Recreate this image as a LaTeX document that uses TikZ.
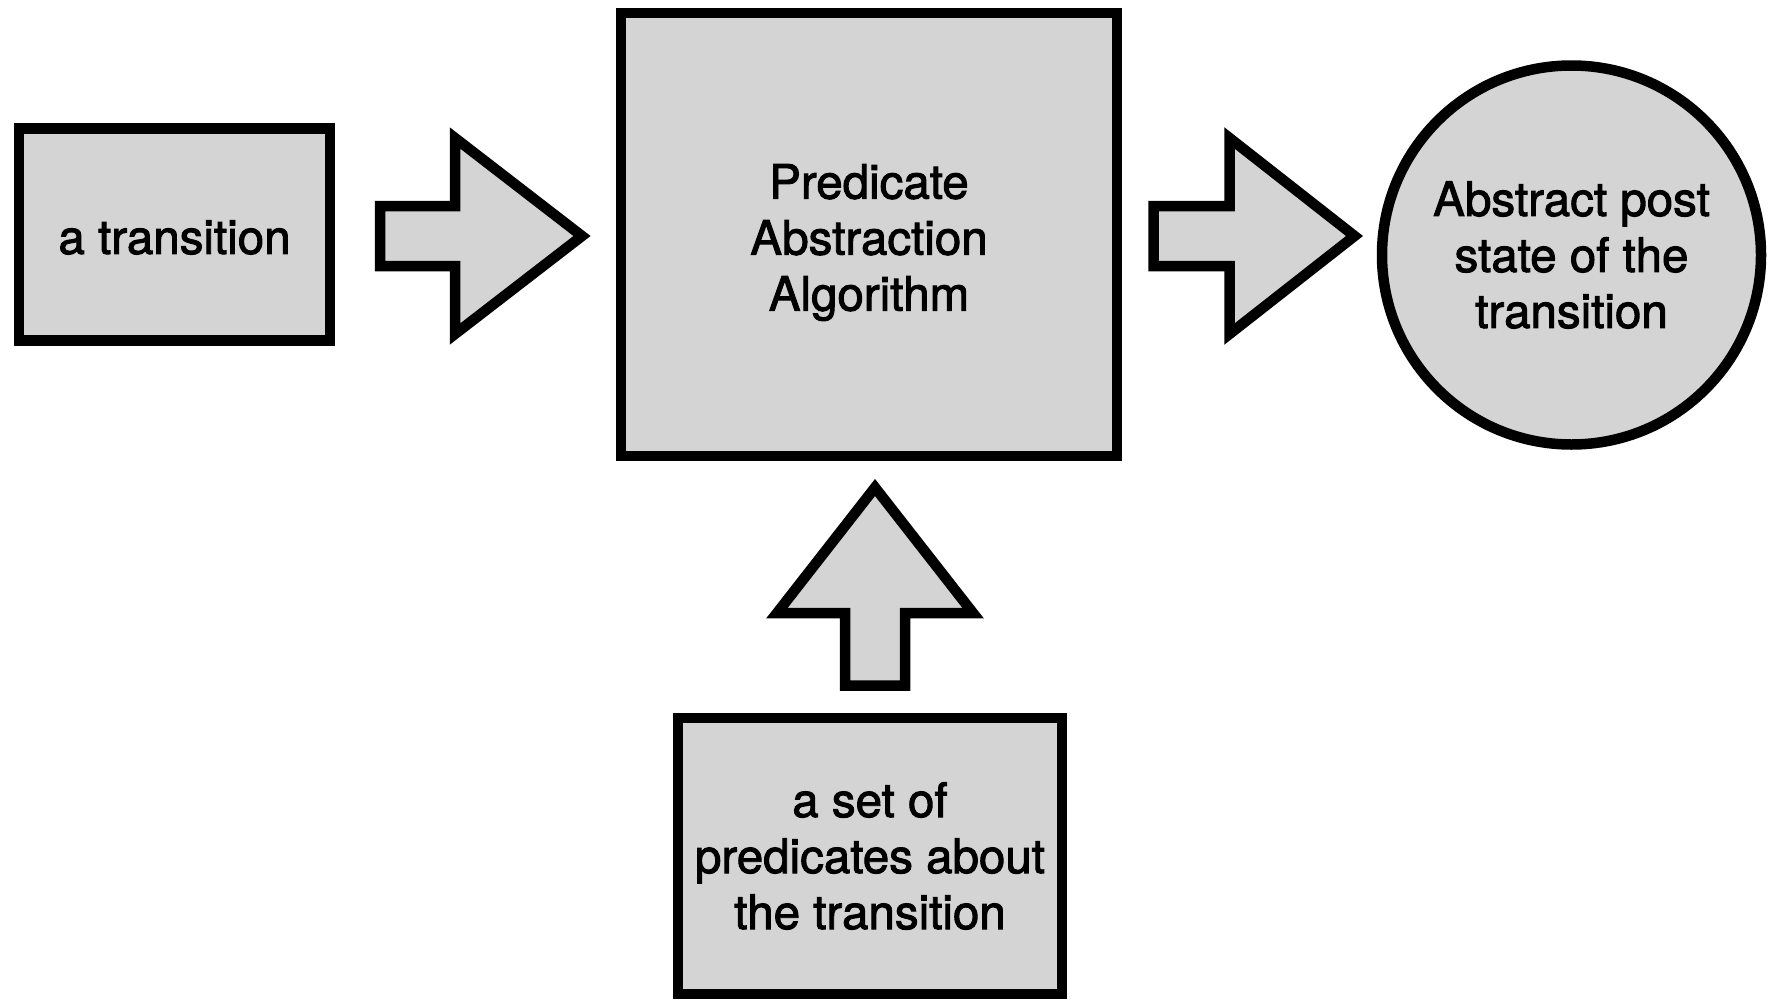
\documentclass[tikz,border=0pt]{standalone}
\usepackage{fontspec}
\setmainfont{TeX Gyre Heros}[FakeBold=2]
\usetikzlibrary{calc}
\definecolor{boxfill}{RGB}{212,212,212}
\begin{document}
\begin{tikzpicture}[x=1pt,y=-1pt,line width=10.5pt,line join=miter,
  shapefill/.style={draw=black,fill=boxfill},
  boxfont/.style={font=\fontsize{47.5}{56}\selectfont,align=center},
  boxtext/.style={shapefill,boxfont,inner sep=0pt,outer sep=0pt}]
\useasboundingbox (0,0) rectangle (1769,999);

% blocks
\node[boxtext,minimum width=311pt,minimum height=212pt] (trans) at (174.5,234.5) {};
\node[boxfont] (transtext) at ($(trans.center)+(0,3)$) {a transition};
\node[boxtext,minimum width=496pt,minimum height=443pt] (algo) at (869,234.5) {};
\node[boxfont] (algotext) at ($(algo.center)+(0,8)$) {Predicate\\Abstraction\\Algorithm};
\node[boxtext,minimum width=384pt,minimum height=276pt] (preds) at (870,856) {a set of\\predicates about\\the transition};
\node[boxtext,circle,minimum size=379pt] (post) at (1571.5,255) {Abstract post\\state of the\\transition};

% block arrows between the blocks
\coordinate (inA) at ($(trans.east)+(50,1.5)$);
\draw[shapefill] (inA) ++(0,-30) -- ++(75,0) -- ++(0,-68) -- ++(127,98)
  -- ++(-127,98) -- ++(0,-68) -- ++(-75,0) -- cycle;

\coordinate (outA) at ($(algo.east)+(36.5,1.5)$);
\draw[shapefill] (outA) ++(0,-30) -- ++(76,0) -- ++(0,-68) -- ++(125,98)
  -- ++(-125,98) -- ++(0,-68) -- ++(-76,0) -- cycle;

\coordinate (upA) at ($(preds.north)+(5,-32.5)$);
\draw[shapefill] (upA) ++(-30,0) -- ++(0,-72.5) -- ++(-68,0) -- ++(98,-125.5)
  -- ++(98,125.5) -- ++(-68,0) -- ++(0,72.5) -- cycle;
\end{tikzpicture}
\end{document}
